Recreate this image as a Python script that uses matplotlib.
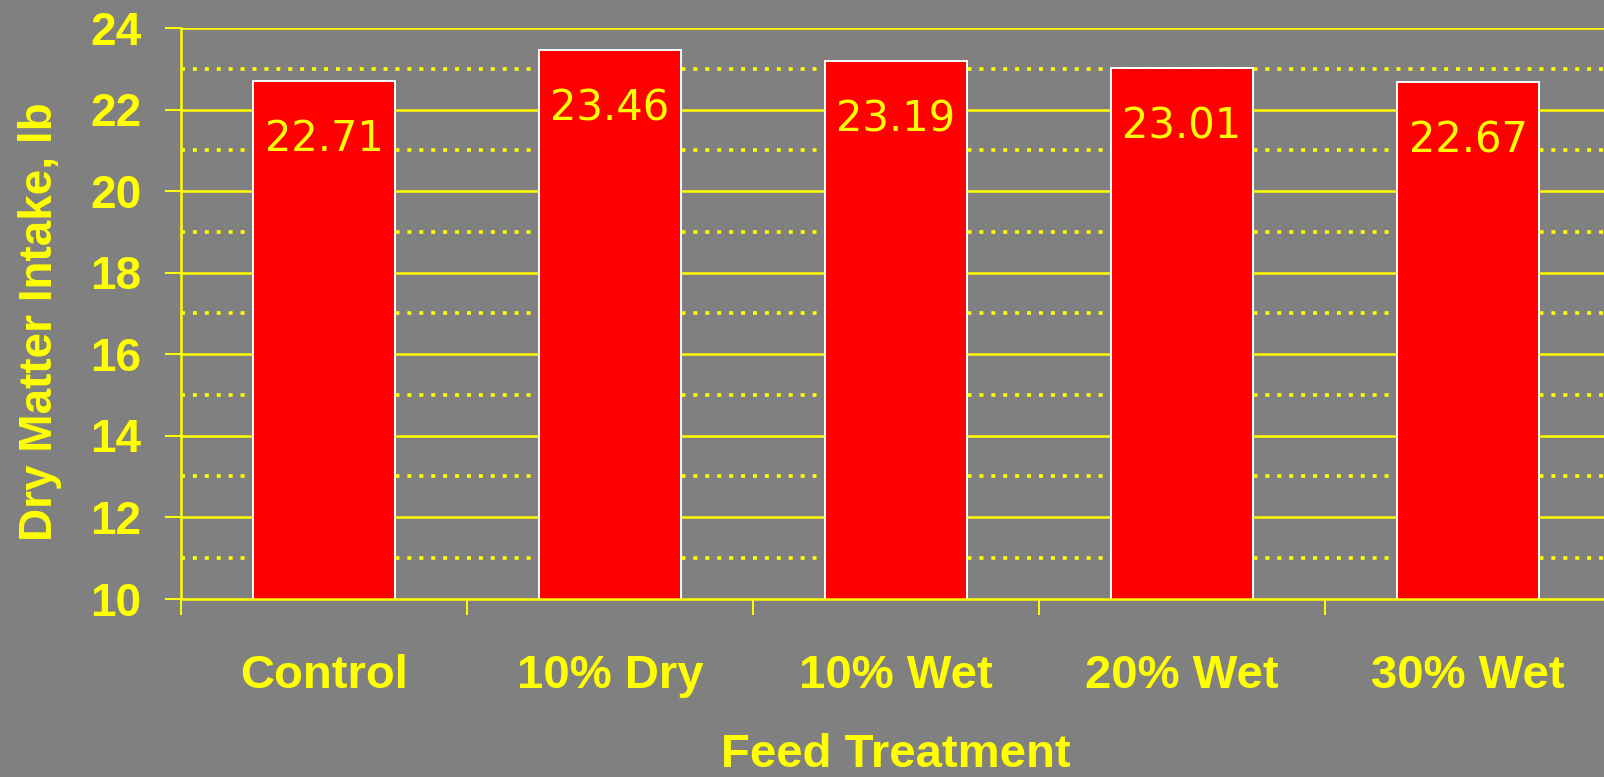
import matplotlib
matplotlib.use("Agg")
import matplotlib.pyplot as plt
import numpy as np

categories = ["Control", "10% Dry", "10% Wet", "20% Wet", "30% Wet"]
values = [22.71, 23.46, 23.19, 23.01, 22.67]
value_labels = ["22.71", "23.46", "23.19", "23.01", "22.67"]
yticks = [10, 12, 14, 16, 18, 20, 22, 24]
yminor = [11, 13, 15, 17, 19, 21, 23]

BG = "#808080"
YEL = "#FFFF00"
RED = "#FF0000"

fig = plt.figure(figsize=(16.04, 7.77), dpi=100, facecolor=BG)
W, H = 1604, 777
x0, x1 = 181, 1611
ytop, ybot = 28, 598.5
ax = fig.add_axes([x0 / W, 1 - ybot / H, (x1 - x0) / W, (ybot - ytop) / H])
ax.set_facecolor(BG)

x = np.arange(len(categories))
ax.bar(x, values, width=0.495, color=RED, edgecolor="white", linewidth=1.4, zorder=3)

ax.set_xlim(-0.5, len(categories) - 0.5)
ax.set_ylim(10, 24)

# gridlines
for v in yticks[1:]:
    ax.axhline(v, color=YEL, lw=1.8, zorder=1)
for v in yminor:
    ax.axhline(v, color=YEL, lw=2.6, linestyle=(0, (1.1, 2.2)), dash_capstyle="butt", zorder=1)

for s in ["top", "right"]:
    ax.spines[s].set_visible(False)
for s in ["left", "bottom"]:
    ax.spines[s].set_color(YEL)
    ax.spines[s].set_linewidth(1.8)
    ax.spines[s].set_zorder(4)

ax.set_yticks(yticks)
ax.set_yticklabels([str(t) for t in yticks], fontsize=33, fontweight="bold",
                   color=YEL, family="Liberation Sans")
ax.tick_params(axis="y", direction="out", length=11.5, width=1.4, color=YEL, pad=17)

ax.set_xticks(x)
ax.set_xticklabels(categories, fontsize=34, fontweight="bold", color=YEL,
                   family="Liberation Sans")
ax.tick_params(axis="x", which="major", length=0, pad=40)
ax.set_xticks(np.arange(len(categories) + 1) - 0.5, minor=True)
ax.tick_params(axis="x", which="minor", direction="out", length=11.5, width=1.4, color=YEL)

for xi, v, lab in zip(x, values, value_labels):
    ax.annotate(lab, (xi, v), xytext=(0, -27), textcoords="offset points",
                ha="center", va="top", fontsize=30, color=YEL, family="DejaVu Sans",
                zorder=5)

fig.text(40 / W, 1 - 322 / H, "Dry Matter Intake, lb", rotation=90, ha="center", va="center",
         fontsize=33, fontweight="bold", color=YEL, family="Liberation Sans")
fig.text(896 / W, 1 - 755 / H, "Feed Treatment", ha="center", va="center",
         fontsize=34, fontweight="bold", color=YEL, family="Liberation Sans")

fig.savefig("out.png", dpi=100, facecolor=BG)
